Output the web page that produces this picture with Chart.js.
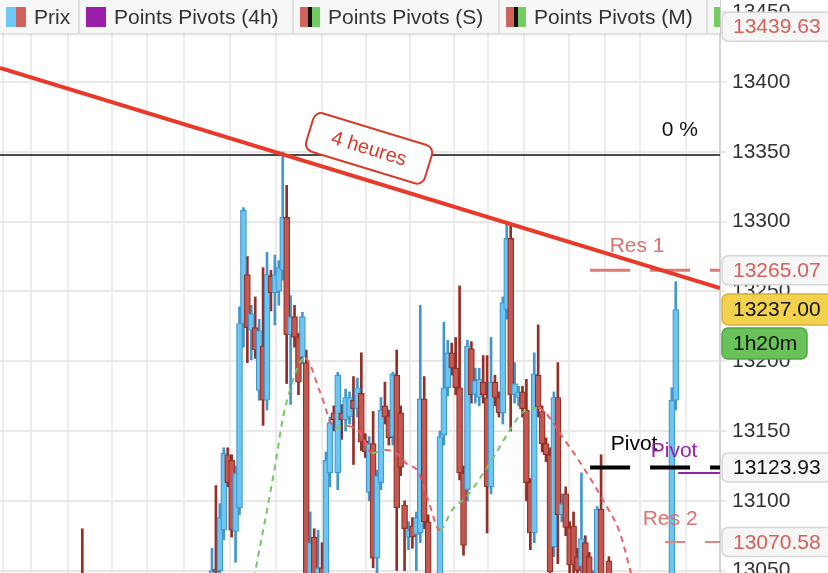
<!DOCTYPE html>
<html lang="fr">
<head>
<meta charset="utf-8">
<title>Prix et points pivots</title>
<script src="https://cdn.jsdelivr.net/npm/chart.js@4.4.1/dist/chart.umd.min.js"></script>
<style>
  html, body { margin: 0; padding: 0; background: #fff; }
  #cadre { position: relative; width: 828px; height: 573px; overflow: hidden; font-family: "Liberation Sans", Arial, sans-serif; }
  #graphique { position: absolute; left: 0; top: 0; }
  #legende { position: absolute; left: 0; top: 0; width: 720px; height: 33px; background: #f7f7f7;
             border-bottom: 1px solid #dadada; box-shadow: 0 1px 2px rgba(0,0,0,0.12); display: flex; overflow: hidden; }
  .onglet { display: flex; align-items: center; height: 33px; padding-left: 6px; border-right: 2px solid #e0e0e0;
            font-size: 21px; color: #333; white-space: nowrap; box-sizing: border-box; flex: none; }
  .icone { width: 20px; height: 20px; display: flex; margin-right: 8px; flex: none; }
</style>
</head>
<body>
<div id="cadre">
  <canvas id="graphique" width="828" height="573"></canvas>
  <div id="legende">
    <div class="onglet" style="width:80px"><span class="icone"><span style="width:10px;background:#6ec8f5"></span><span style="width:10px;background:#d0645c"></span></span>Prix</div>
    <div class="onglet" style="width:214px"><span class="icone" style="background:#9a1fa8"></span>Points Pivots (4h)</div>
    <div class="onglet" style="width:206px"><span class="icone"><span style="width:8px;background:#d0645c"></span><span style="width:4px;background:#111"></span><span style="width:8px;background:#74cb62"></span></span>Points Pivots (S)</div>
    <div class="onglet" style="width:208px"><span class="icone"><span style="width:8px;background:#d0645c"></span><span style="width:4px;background:#111"></span><span style="width:8px;background:#74cb62"></span></span>Points Pivots (M)</div>
    <div class="onglet" style="width:100px;border-right:none"><span class="icone"><span style="width:8px;background:#74cb62"></span></span>Points Pivots (J)</div>
  </div>
</div>
<script>
// Graduations de l'axe des prix et lignes verticales de la grille (temps)
const graduations = [13050, 13100, 13150, 13200, 13250, 13300, 13350, 13400, 13450];
const grilleTemps = [-49.6, -42.5, -30.8, -20.1, -13.0, -1.3, 10.4, 22.1, 33.8, 44.5, 56.2, 66.9, 73.5, 85.2, 96.7, 103.1, 114.8, 126.5];

// Bougies : ouverture, haut, bas, clôture (la première est isolée, à gauche)
const ouverture = [13030,
  13040, 13051, 13050, 13079, 13133, 13129, 13078, 13095, 13227, 13262, 13222, 13224, 13179, 13211, 13172, 13261, 13249, 13250, 13265, 13303,
  13219, 13232, 13217, 13203, 13199, 13040, 13074, 13045, 13052, 13040, 13120, 13163, 13120, 13163, 13158, 13160, 13172, 13166, 13177, 13143,
  13106, 13141, 13059, 13113, 13168, 13161, 13146, 13190, 13163, 13097, 13074, 13082, 13076, 13077, 13173, 13085, 13030, 13010, 13020, 13147,
  13181, 13206, 13195, 13181, 13120, 13108, 13209, 13176, 13174, 13185, 13174, 13110, 13185, 13174, 13163, 13237, 13288, 13176, 13174, 13178,
  13165, 13113, 13077, 13190, 13164, 13141, 13133, 13067, 13174, 13090, 13105, 13081, 13082, 13060, 13053, 13070, 13060, 13035, 13040, 13094,
  13040, 13057, 13030, 13015, 13025, 13005, 13012, 13022, 13010, 13018, 13028, 13020, 13030, 13024, 13032, 13028, 13035, 13030, 13172];
const haut = [13080,
  13066, 13111, 13098, 13138, 13138, 13133, 13125, 13239, 13310, 13275, 13240, 13246, 13230, 13267, 13278, 13265, 13276, 13272, 13350, 13326,
  13247, 13240, 13220, 13235, 13208, 13092, 13080, 13079, 13070, 13135, 13160, 13168, 13192, 13169, 13180, 13178, 13189, 13188, 13206, 13148,
  13146, 13164, 13122, 13174, 13185, 13165, 13192, 13208, 13168, 13100, 13085, 13088, 13092, 13240, 13189, 13090, 13040, 13035, 13150, 13228,
  13215, 13213, 13217, 13254, 13125, 13215, 13214, 13195, 13195, 13204, 13204, 13217, 13190, 13178, 13246, 13299, 13298, 13199, 13182, 13182,
  13187, 13116, 13206, 13226, 13168, 13145, 13138, 13178, 13199, 13105, 13110, 13085, 13092, 13066, 13120, 13075, 13063, 13050, 13096, 13133,
  13045, 13060, 13040, 13030, 13035, 13020, 13030, 13032, 13025, 13035, 13040, 13036, 13042, 13038, 13044, 13040, 13045, 13181, 13257];
const bas = [13000,
  13035, 13040, 13045, 13072, 13110, 13074, 13056, 13090, 13210, 13199, 13201, 13202, 13172, 13154, 13165, 13236, 13226, 13240, 13258, 13184,
  13169, 13210, 13176, 13198, 13020, 13035, 13020, 13040, 13035, 13035, 13110, 13150, 13108, 13144, 13150, 13155, 13126, 13160, 13136, 13131,
  13100, 13052, 13048, 13108, 13155, 13140, 13140, 13050, 13118, 13050, 13065, 13066, 13050, 13070, 13080, 13020, 13000, 13000, 13010, 13140,
  13175, 13190, 13176, 13115, 13061, 13100, 13170, 13170, 13168, 13170, 13077, 13105, 13168, 13160, 13155, 13230, 13150, 13170, 13168, 13160,
  13100, 13065, 13070, 13160, 13135, 13128, 13040, 13060, 13055, 13085, 13075, 13048, 13045, 13044, 13045, 13030, 13030, 13030, 13035, 13020,
  13020, 13020, 13010, 13005, 13000, 12995, 13000, 13005, 12998, 13008, 13015, 13010, 13018, 13012, 13020, 13015, 13020, 13020, 13165];
const cloture = [13010,
  13050, 13049, 13088, 13134, 13113, 13079, 13120, 13227, 13308, 13224, 13234, 13208, 13222, 13172, 13262, 13249, 13262, 13267, 13303, 13219,
  13232, 13217, 13185, 13232, 13030, 13070, 13030, 13052, 13040, 13129, 13156, 13158, 13190, 13158, 13174, 13174, 13166, 13181, 13142, 13135,
  13141, 13059, 13118, 13165, 13160, 13145, 13191, 13095, 13124, 13080, 13079, 13074, 13088, 13173, 13085, 13030, 13010, 13025, 13146, 13181,
  13206, 13195, 13181, 13120, 13068, 13211, 13176, 13186, 13187, 13176, 13110, 13185, 13174, 13163, 13242, 13288, 13176, 13184, 13178, 13166,
  13113, 13077, 13191, 13167, 13141, 13133, 13049, 13174, 13090, 13098, 13081, 13054, 13054, 13050, 13073, 13040, 13035, 13045, 13094, 13030,
  13025, 13030, 13015, 13025, 13005, 13012, 13022, 13010, 13018, 13028, 13020, 13030, 13024, 13032, 13028, 13035, 13030, 13172, 13237];
const positions = [-33].concat(cloture.slice(1).map((_, i) => i));

// Moyenne mobile (pointillés verts / rouges)
const moyenneX = [9.7, 11.7, 14.0, 16.0, 18.1, 20.4, 22.4, 23.7, 27.5, 31.3, 34.6, 37.7, 40.7, 44.0, 46.6, 49.9, 52.2, 55.0, 58.0, 61.1, 64.9, 68.2, 72.0, 75.8, 79.1, 83.0, 84.7, 88.5, 92.4, 95.4, 99.5, 103.8, 106.4, 108.9];
const moyenneY = [13028.9, 13059.7, 13093.4, 13124.2, 13160.0, 13184.4, 13199.4, 13202.2, 13177.9, 13152.1, 13153.5, 13148.5, 13134.2, 13136.4, 13134.9, 13125.6, 13122.0, 13100.5, 13079.1, 13093.4, 13103.4, 13116.3, 13132.8, 13150.7, 13163.6, 13166.4, 13163.6, 13148.5, 13132.8, 13119.9, 13100.5, 13076.9, 13050.4, 13021.7];

// Ligne de tendance "4 heures"
const tendanceX = [-53.94, 129.26];
const tendanceY = [13410.0, 13252.4];

// Niveaux
const niveauZero = 13347.7;
const resistance1 = 13265.07;
const pivotS = 13123.93;
const pivot4h = 13120.0;
const resistance2 = 13070.58;
const niveauHaut = 13439.63;
const debutSemaine = 96.2;
const debutPivot4h = 118.6;
const debutRes2 = 115.3;
const finNiveaux = 130;
const minuterie = '1h20m';
const dernierPrix = cloture[cloture.length - 1];

const bleuFond = '#6dc6f2', bleuBord = '#4096cd';
const rougeFond = '#c25a53', rougeBord = '#952e25';
const hausse = i => cloture[i] >= ouverture[i];
const police = '21px "Liberation Sans", Arial, sans-serif';

function rectArrondi(ctx, x, y, w, h, r) {
  ctx.beginPath();
  ctx.moveTo(x + r, y);
  ctx.arcTo(x + w, y, x + w, y + h, r);
  ctx.arcTo(x + w, y + h, x, y + h, r);
  ctx.arcTo(x, y + h, x, y, r);
  ctx.arcTo(x, y, x + w, y, r);
  ctx.closePath();
}

const etiquettes = {
  id: 'etiquettes',
  afterDatasetsDraw(chart) {
    const { ctx, scales: { x, y } } = chart;
    ctx.save();
    ctx.font = police;
    ctx.textBaseline = 'middle';

    ctx.fillStyle = '#111';
    ctx.textAlign = 'right';
    ctx.fillText('0 %', x.right - 22, y.getPixelForValue(niveauZero) - 25);

    ctx.textAlign = 'center';
    const xs = x.getPixelForValue(debutSemaine);
    ctx.fillStyle = '#d9736d';
    ctx.fillText('Res 1', xs + 47, y.getPixelForValue(resistance1) - 24);
    ctx.fillStyle = '#000';
    ctx.fillText('Pivot', xs + 44, y.getPixelForValue(pivotS) - 23);
    ctx.fillStyle = '#9a1fa8';
    ctx.fillText('Pivot', x.getPixelForValue(debutPivot4h) - 4, y.getPixelForValue(pivot4h) - 22);
    ctx.fillStyle = '#d9736d';
    ctx.fillText('Res 2', x.getPixelForValue(debutRes2) + 5, y.getPixelForValue(resistance2) - 23);

    // étiquette de la ligne de tendance
    const x0 = x.getPixelForValue(tendanceX[0]), y0 = y.getPixelForValue(tendanceY[0]);
    const x1 = x.getPixelForValue(tendanceX[1]), y1 = y.getPixelForValue(tendanceY[1]);
    const angle = Math.atan2(y1 - y0, x1 - x0);
    const t = (360 - x0) / (x1 - x0);
    const cx = x0 + t * (x1 - x0) + Math.sin(angle) * 31;
    const cy = y0 + t * (y1 - y0) - Math.cos(angle) * 31;
    ctx.translate(cx, cy);
    ctx.rotate(angle);
    rectArrondi(ctx, -62, -20, 124, 40, 8);
    ctx.fillStyle = '#fff';
    ctx.fill();
    ctx.lineWidth = 2;
    ctx.strokeStyle = '#d63b2c';
    ctx.stroke();
    ctx.fillStyle = '#d63b2c';
    ctx.font = '20px "Liberation Sans", Arial, sans-serif';
    ctx.fillText('4 heures', 0, 1);
    ctx.restore();
  },
  afterDraw(chart) {
    const { ctx, scales: { y } } = chart;
    const gauche = y.left + 2;
    const boite = (yc, w, h, fond, bord, texte, couleur) => {
      rectArrondi(ctx, gauche, yc - h / 2, w, h, 6);
      ctx.fillStyle = fond;
      ctx.fill();
      ctx.lineWidth = 1.5;
      ctx.strokeStyle = bord;
      ctx.stroke();
      ctx.fillStyle = couleur;
      ctx.fillText(texte, gauche + 11, yc + 1);
    };
    ctx.save();
    ctx.font = police;
    ctx.textAlign = 'left';
    ctx.textBaseline = 'middle';
    boite(y.getPixelForValue(niveauHaut), 112, 29, '#f6f6f6', '#d6d6d6', niveauHaut.toFixed(2), '#d4605a');
    boite(y.getPixelForValue(resistance1), 112, 29, '#f6f6f6', '#d6d6d6', resistance1.toFixed(2), '#d4605a');
    const yPrix = y.getPixelForValue(dernierPrix);
    boite(yPrix, 112, 31, '#f2d24c', '#dcaf38', dernierPrix.toFixed(2), '#111');
    boite(yPrix + 34, 85, 31, '#69c25a', '#52a544', minuterie, '#111');
    boite(y.getPixelForValue(pivotS), 112, 29, '#f6f6f6', '#d6d6d6', pivotS.toFixed(2), '#111');
    boite(y.getPixelForValue(resistance2), 112, 29, '#f6f6f6', '#d6d6d6', resistance2.toFixed(2), '#d4605a');
    ctx.restore();
  }
};

const niveau = (valeur, debut) => [{ x: debut, y: valeur }, { x: finNiveaux, y: valeur }];

new Chart(document.getElementById('graphique'), {
  type: 'bar',
  data: {
    datasets: [
      {
        type: 'line', order: 1,
        data: tendanceX.map((v, i) => ({ x: v, y: tendanceY[i] })),
        borderColor: '#e8392a', borderWidth: 4, pointRadius: 0
      },
      {
        type: 'line', order: 2, data: niveau(niveauZero, -60),
        borderColor: '#111', borderWidth: 1.5, pointRadius: 0
      },
      {
        type: 'line', order: 2, data: niveau(resistance1, debutSemaine),
        borderColor: '#de7a74', borderWidth: 3, borderDash: [40, 20], pointRadius: 0
      },
      {
        type: 'line', order: 2, data: niveau(pivotS, debutSemaine),
        borderColor: '#000', borderWidth: 4, borderDash: [40, 20], pointRadius: 0
      },
      {
        type: 'line', order: 2, data: niveau(pivot4h, debutPivot4h),
        borderColor: '#9a1fa8', borderWidth: 2, pointRadius: 0
      },
      {
        type: 'line', order: 2, data: niveau(resistance2, debutRes2),
        borderColor: '#e08580', borderWidth: 2, borderDash: [20, 20], pointRadius: 0
      },
      {
        type: 'line', order: 3,
        data: moyenneX.map((v, i) => ({ x: v, y: moyenneY[i] })),
        borderWidth: 2, borderDash: [6, 5], pointRadius: 0, cubicInterpolationMode: 'monotone',
        segment: { borderColor: c => c.p1.parsed.y > c.p0.parsed.y ? '#78c466' : '#ea5f68' }
      },
      {
        order: 4, grouped: false, barThickness: 6,
        data: positions.map((p, i) => ({ x: p, y: [ouverture[i], cloture[i]] })),
        backgroundColor: c => hausse(c.dataIndex) ? bleuFond : rougeFond,
        borderColor: c => hausse(c.dataIndex) ? bleuBord : rougeBord,
        borderWidth: 1.2, borderSkipped: false
      },
      {
        order: 5, grouped: false, barThickness: 2,
        data: positions.map((p, i) => ({ x: p, y: [bas[i], haut[i]] })),
        backgroundColor: c => hausse(c.dataIndex) ? bleuBord : rougeBord,
        borderWidth: 0
      }
    ]
  },
  options: {
    responsive: false,
    animation: false,
    devicePixelRatio: 1,
    layout: { padding: 0 },
    plugins: { legend: { display: false }, tooltip: { enabled: false } },
    scales: {
      x: {
        type: 'linear', min: -53.94, max: 129.26, offset: false,
        ticks: { display: false },
        grid: { color: '#ececec', lineWidth: 2, drawTicks: false },
        border: { display: false },
        afterBuildTicks: s => { s.ticks = grilleTemps.map(v => ({ value: v })); },
        afterFit: s => { s.height = 0; }
      },
      y: {
        position: 'right', min: 13048.3, max: 13458.7,
        ticks: { color: '#333', font: { size: 21, family: '"Liberation Sans", Arial, sans-serif' }, padding: 6, callback: v => String(v) },
        grid: { color: '#e8e8e8', lineWidth: 2, tickLength: 6 },
        border: { color: '#d4d4d4', width: 2 },
        afterBuildTicks: s => { s.ticks = graduations.map(v => ({ value: v })); },
        afterFit: s => { s.width = 108; s.paddingTop = 0; s.paddingBottom = 0; }
      }
    }
  },
  plugins: [etiquettes]
});
</script>
</body>
</html>
